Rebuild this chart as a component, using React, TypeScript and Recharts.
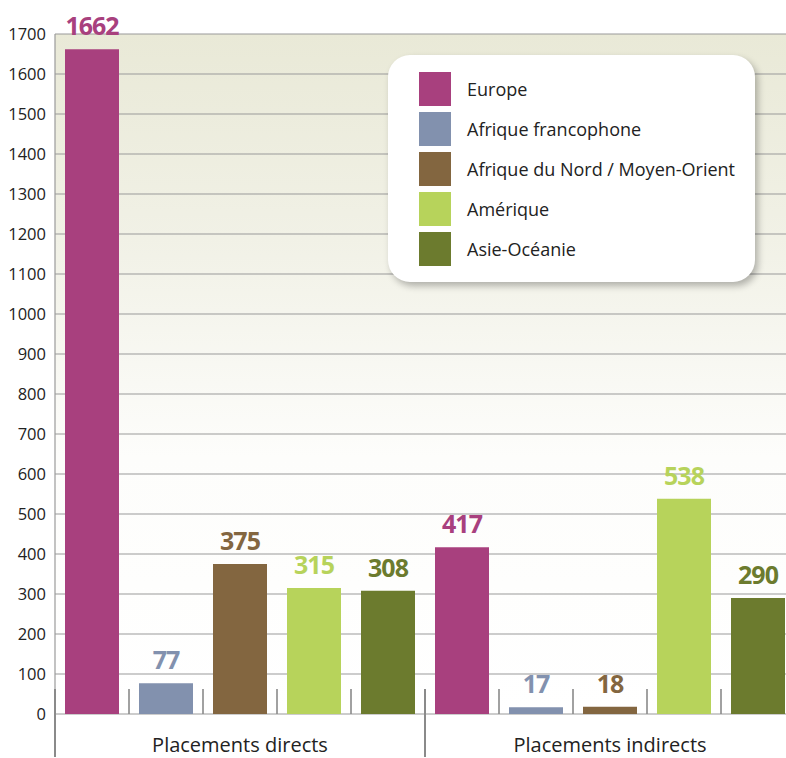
import React from "react";
import { Bar, BarChart, CartesianGrid, LabelList, Legend, XAxis, YAxis } from "recharts";

const categories = ["Placements directs", "Placements indirects"];
const europe = [1662, 417];
const afriqueFrancophone = [77, 17];
const afriqueNord = [375, 18];
const amerique = [315, 538];
const asieOceanie = [308, 290];
const yTicks = [0, 100, 200, 300, 400, 500, 600, 700, 800, 900, 1000, 1100, 1200, 1300, 1400, 1500, 1600, 1700];

const series = [
  { key: "europe", name: "Europe", color: "#A8407E", values: europe },
  { key: "afr", name: "Afrique francophone", color: "#8291AE", values: afriqueFrancophone },
  { key: "nord", name: "Afrique du Nord / Moyen-Orient", color: "#836640", values: afriqueNord },
  { key: "am", name: "Amérique", color: "#B7D35B", values: amerique },
  { key: "asie", name: "Asie-Océanie", color: "#6C7B2E", values: asieOceanie },
];

const data = categories.map((name, i) => {
  const row: Record<string, string | number> = { name };
  series.forEach((s) => (row[s.key] = s.values[i]));
  return row;
});

const FONT = "'Open Sans', sans-serif";

// category label plus the little separators between bar slots
const CategoryTick = (props: any) => {
  const { x, y, payload, index } = props;
  const half = payload.offset || props.width / categories.length / 2;
  const slot = (half * 2) / series.length;
  const left = x - half;
  const lines = [];
  for (let k = 0; k <= series.length; k++) {
    const divider = k === 0 || k === series.length;
    if (k === series.length && index !== categories.length - 1) continue;
    const lx = left + k * slot;
    lines.push(
      <line
        key={k}
        x1={lx}
        x2={lx}
        y1={y - 25}
        y2={divider ? y + 43 : y}
        stroke="#8a8a8a"
        strokeWidth={divider ? 2 : 1.6}
      />
    );
  }
  return (
    <g>
      {lines}
      <text x={x} y={y + 38} textAnchor="middle" fontSize={20} fill="#222" fontFamily={FONT}>
        {payload.value}
      </text>
    </g>
  );
};

const LegendBox = () => (
  <div
    style={{
      width: 367,
      height: 227,
      background: "#fff",
      borderRadius: 22,
      boxShadow: "3px 4px 7px rgba(0,0,0,0.28)",
      boxSizing: "border-box",
      paddingTop: 17,
      paddingLeft: 31,
      fontFamily: FONT,
    }}
  >
    {series.map((s) => (
      <div key={s.key} style={{ display: "flex", alignItems: "center", height: 34, marginBottom: 6 }}>
        <div style={{ width: 32, height: 34, background: s.color }} />
        <span style={{ marginLeft: 16, fontSize: 18, color: "#222" }}>{s.name}</span>
      </div>
    ))}
  </div>
);

export default function App() {
  return (
    <div style={{ position: "absolute", left: 0, top: 0, width: 786, height: 758, overflow: "hidden", background: "#fff" }}>
      <BarChart
        width={795}
        height={758}
        data={data}
        margin={{ top: 34, right: 0, bottom: 0, left: 0 }}
        barSize={54}
        barGap={20}
      >
        <defs>
          <linearGradient id="bg" x1="0" y1="0" x2="0" y2="1">
            <stop offset="0%" stopColor="#E9E9D7" />
            <stop offset="30%" stopColor="#F1F1E6" />
            <stop offset="62%" stopColor="#FDFDFB" />
            <stop offset="100%" stopColor="#FFFFFF" />
          </linearGradient>
        </defs>
        <CartesianGrid vertical={false} stroke="#9a9a9a" strokeWidth={1.2} fill="url(#bg)" />
        <XAxis
          dataKey="name"
          interval={0}
          height={44}
          axisLine={false}
          tickLine={false}
          tickSize={0}
          tickMargin={0}
          tick={<CategoryTick />}
        />
        <YAxis
          domain={[0, 1700]}
          ticks={yTicks}
          interval={0}
          width={55}
          axisLine={{ stroke: "#9a9a9a", strokeWidth: 1.2 }}
          tickLine={false}
          tickSize={0}
          tickMargin={9}
          tick={{ fill: "#222", fontSize: 16.5, fontFamily: FONT }}
        />
        <Legend
          layout="vertical"
          align="center"
          verticalAlign="middle"
          wrapperStyle={{ left: 388, top: 55, width: 367, height: 227 }}
          content={<LegendBox />}
        />
        {series.map((s) => (
          <Bar key={s.key} dataKey={s.key} name={s.name} fill={s.color} isAnimationActive={false}>
            <LabelList
              dataKey={s.key}
              position="top"
              offset={14}
              fill={s.color}
              fontSize={25}
              fontWeight="bold"
              fontFamily={FONT}
              letterSpacing={-1}
            />
          </Bar>
        ))}
      </BarChart>
    </div>
  );
}
